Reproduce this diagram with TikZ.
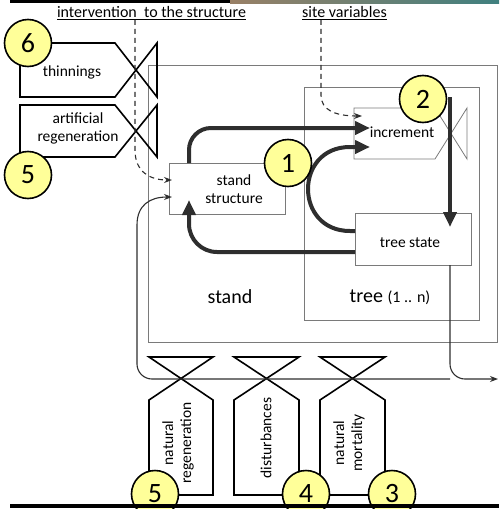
\documentclass[tikz,border=0pt]{standalone}
\usepackage{fontspec}
\setmainfont{Carlito}
\usetikzlibrary{arrows.meta,calc}
\definecolor{circfill}{HTML}{FFFF99}
\definecolor{darkline}{HTML}{2E2E2E}
\definecolor{boxgray}{HTML}{7A7A7A}
\begin{document}
\begin{tikzpicture}[x=1pt,y=-1pt,
  numc/.style={circle, draw=black, line width=1.6pt, fill=circfill, minimum size=47pt, inner sep=0pt, font=\fontsize{28}{28}\selectfont},
  graybox/.style={draw=boxgray, line width=0.8pt, inner sep=0pt, anchor=north west},
  thickarrow/.style={draw=darkline, line width=4pt, -{Triangle[length=15pt,width=13pt]}},
  valve/.style={draw=black, line width=1.6pt, line join=miter},
  thinflow/.style={draw=darkline, line width=1.1pt, -{Stealth[length=8pt,width=6pt]}},
  dashflow/.style={draw=darkline, line width=1.1pt, dash pattern=on 5pt off 4pt, -{Stealth[length=8pt,width=6pt]}},
  lbl/.style={font=\fontsize{15.5}{18}\selectfont, align=center, inner sep=0pt},
  toplbl/.style={font=\fontsize{16}{18}\selectfont, inner sep=0pt},
  biglbl/.style={font=\fontsize{20}{22}\selectfont, inner sep=0pt},
]
\useasboundingbox (0,0) rectangle (499,509);
\clip (0,0) rectangle (499,509);
% photo strip at top
\fill[black] (10,0) rectangle (230,3);
\shade[left color=gray!60!brown, right color=gray!50!teal] (230,0) rectangle (499,3);

% boxes
\node[graybox, minimum width=349pt, minimum height=277pt] (standbox) at (148,65) {};
\node[graybox, minimum width=175pt, minimum height=233pt] (treebox) at (304,87) {};
\node[graybox, minimum width=116pt, minimum height=51pt] (ss) at (169,163) {};
\node[lbl] (sstext) at (234,189) {stand\\structure};
\node[graybox, minimum width=116pt, minimum height=52pt] (ts) at (355,213) {};
\node[lbl] (tstext) at (410,243) {tree state};
\node[inner sep=0pt, minimum width=81pt, minimum height=51pt, anchor=north west] (inc) at (354,108) {};
\node[lbl] (inctext) at (402,132) {increment};
\draw[draw=boxgray, line width=0.8pt] (435,108) -- (354,108) -- (354,159) -- (435,159) -- (467,108) -- (467,159) -- cycle;

\node[biglbl] (standlbl) at (230,297) {stand};
\node[biglbl] (treelbl) at (390,297) {tree {\fontsize{16}{18}\selectfont(1 .. n)}};

% top labels
\node[toplbl] (intlbl) at (151.5,13) {\underline{intervention\ \ to the structure}};
\node[toplbl] (sitelbl) at (344.5,13) {\underline{site variables}};

% left valves
\draw[valve] (115,43) -- (20,43) -- (20,97) -- (115,97) -- (157,43) -- (157,97) -- cycle;
\node[lbl] (thin) at (72,72) {thinnings};
\draw[valve] (115,105) -- (20,105) -- (20,157) -- (115,157) -- (157,105) -- (157,157) -- cycle;
\node[lbl] (artreg) at (78,128) {artificial\\regeneration};

% bottom valves
\draw[valve] (149,400) -- (149,495) -- (213,495) -- (213,400) -- (149,357) -- (213,357) -- cycle;
\node[lbl, rotate=90] (natreg) at (178,443) {natural\\regeneration};
\draw[valve] (234,400) -- (234,495) -- (299,495) -- (299,400) -- (234,357) -- (299,357) -- cycle;
\node[lbl, rotate=90] (dist) at (266,438) {disturbances};
\draw[valve] (320,400) -- (320,495) -- (385,495) -- (385,400) -- (320,357) -- (385,357) -- cycle;
\node[lbl, rotate=90] (natmort) at (349,443) {natural\\mortality};

% coordinates for connector ends
\coordinate (ssTop) at (189,163);
\coordinate (ssBot) at (189,200);
\coordinate (incA) at (370,128);
\coordinate (incB) at (370,147);
\coordinate (incC) at (362,116);
\coordinate (incOut) at (450,97);
\coordinate (tsIn) at (450,227);
\coordinate (tsL1) at (355,231);
\coordinate (tsL2) at (355,252);
\coordinate (tsBot) at (450,265);
\coordinate (ssIn1) at (172,180);
\coordinate (ssIn2) at (172,197);
\coordinate (outR) at (498,379);
\coordinate (flowL) at (450,379);

% thick arrows
\draw[thickarrow, rounded corners=22pt] (ssTop) |- (incA);
\draw[thickarrow] (tsL1) -- (350,231) .. controls (294,231) and (294,147) .. (350,147) -- (incB);
\draw[thickarrow, rounded corners=28pt] (tsL2) -| (ssBot);
\draw[thickarrow] (incOut) -- (tsIn);

% dashed inputs
\draw[dashflow] (intlbl.south -| 135,0) -- (135,150) .. controls (135,172) and (150,180) .. (ssIn1);
\draw[dashflow] (sitelbl.south -| 321,0) -- (321,95) .. controls (321,110) and (335,116) .. (incC);

% thin flows
\draw[thinflow, rounded corners=15pt] (flowL) -| (137,240) .. controls (137,205) and (150,197) .. (ssIn2);
\draw[thinflow, rounded corners=15pt] (tsBot) |- (outR);

% numbered circles
\node[numc] (c6) at (28,43) {6};
\node[numc] (c5a) at (28,175) {5};
\node[numc] (c1) at (288,163) {1};
\node[numc] (c2) at (423,99) {2};
\node[numc] (c5b) at (155,494) {5};
\node[numc] (c4) at (306,494) {4};
\node[numc] (c3) at (392,494) {3};

% ground line
\coordinate (gL) at (10,506);
\coordinate (gR) at (499,506);
\draw[line width=3.5pt] (gL) -- (gR);
\end{tikzpicture}
\end{document}
